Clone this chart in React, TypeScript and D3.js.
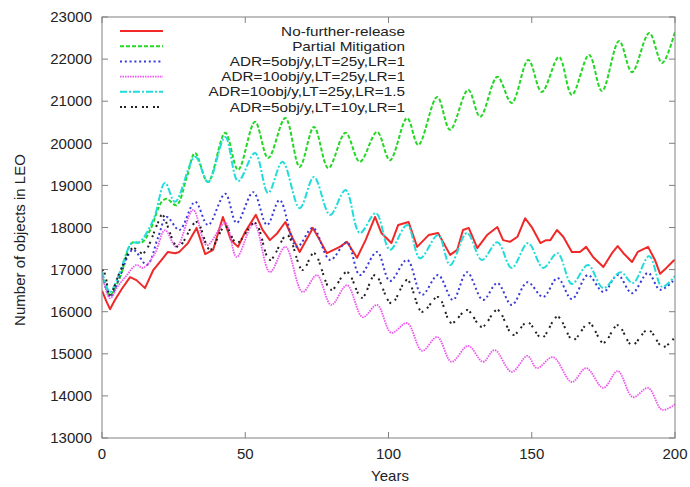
import React from "react";
import * as d3 from "d3";

type Pt = [number, number];

const noFurtherRelease: Pt[] = [[0,16500],[1.5,16250],[2.8,16060],[4.5,16280],[7,16550],[9.8,16820],[12,16750],[15,16560],[17.9,16990],[20.8,17230],[23,17420],[25.5,17390],[27,17420],[30,17630],[33,17990],[36,17370],[38.8,17470],[42.2,18250],[45,17700],[47.5,17540],[50,17900],[53.7,18300],[56,17950],[58.6,17700],[61,17850],[64,18130],[66.5,17750],[69,17420],[73.6,17990],[76,17700],[78.5,17390],[83,17540],[85.5,17660],[89,17280],[92,17700],[95.3,18250],[97.5,17870],[101,17630],[103.4,18060],[107,18130],[110,17540],[114,17820],[117.3,17870],[121.5,17350],[124,17470],[126,17940],[128,17990],[131,17510],[134.4,17820],[138,18010],[140,17700],[142.4,17660],[145,17780],[147.7,18220],[150,18010],[153,17630],[155,17700],[156.5,17700],[158.8,17940],[161,17780],[164,17420],[166.8,17420],[169,17540],[171.4,17300],[175,17060],[178,17390],[180,17560],[182,17390],[185,17180],[187,17420],[190.6,17540],[193,17230],[194.8,16900],[197,17040],[199.3,17200],[200,17230]];

const partialMitigation: Pt[] = [[0,16900],[2.8,16400],[6.3,16820],[10.4,17630],[14,17650],[16.8,17940],[20.8,18610],[22.6,18680],[26,18530],[29.6,19200],[32.5,19770],[37,19080],[43,20250],[47.5,19370],[53.4,20510],[58,19650],[64,20600],[69,19440],[74,20390],[79,19410],[85,20250],[90,19560],[96,20270],[100.5,19600],[106.5,20600],[110.4,19960],[117,21100],[121.5,20320],[127.8,21270],[132,20630],[138,21580],[143,20960],[148.8,21980],[153.5,21220],[159.5,22050],[164,21150],[170,22100],[174.5,21240],[180.5,22430],[185,21690],[191,22620],[195.5,21910],[200,22650]];

const adr5lt25: Pt[] = [[0,16950],[2.8,16350],[6,16800],[10.8,17470],[15.7,17110],[19.5,17750],[22.6,18250],[27,17940],[32.5,18610],[37,18060],[43,18800],[47,18110],[52.8,18840],[57.6,18060],[62,18650],[68,17540],[73.6,17990],[79.6,17230],[85.5,17650],[90,16870],[96,17420],[100.5,16730],[106.5,17230],[111.7,16400],[117.3,16870],[122.5,16280],[127.4,16940],[133,16280],[138,16680],[143,16160],[148.5,16700],[154,16350],[159,16800],[164,16300],[169.6,16870],[175,16470],[180,16870],[185,16440],[190.6,16920],[194.8,16520],[200,16780]];

const adr10lt25: Pt[] = [[0,16900],[2.8,16320],[5.5,16600],[8.7,16870],[12,17110],[14.3,17040],[18.5,17390],[22,17940],[26,17540],[31.8,18420],[36.6,17580],[43,18110],[47,17300],[53,18100],[58.6,16940],[64,17540],[70,16470],[75,16870],[80,16160],[85.5,16630],[91,15870],[96,16160],[101,15500],[106.5,15730],[111.7,15070],[117,15400],[122,14810],[127.8,15190],[133,14810],[137,15090],[143,14570],[148.5,14950],[151.8,14660],[157.4,14920],[164,14330],[169,14660],[175,14190],[180,14590],[185.3,13970],[190.6,14190],[195.5,13670],[200,13800]];

const adr10lt25lr15: Pt[] = [[0,16950],[2.8,16470],[6,16900],[10.4,17630],[13,17650],[17.9,18180],[22,19060],[25.5,18610],[32.5,19680],[37,19080],[43,20150],[47.5,19100],[53.4,19770],[58,18820],[63,19560],[69,18460],[74,19200],[79.6,18300],[85,18890],[90,17870],[95.6,18340],[100.5,17470],[106.5,18060],[111,17270],[117.3,17820],[121.5,17110],[127.4,17870],[132.6,17230],[138,17650],[143,17040],[148.7,17630],[154,17040],[159,17390],[164,16660],[169.6,17110],[175,16560],[181,16940],[185.3,16680],[191,17320],[195.5,16590],[200,16850]];

const adr5lt10: Pt[] = [[0,17000],[1,16900],[2.8,16400],[6,16900],[10.8,17510],[14.3,17390],[19.5,18110],[21,18300],[26.5,17540],[33,18130],[37.7,17470],[43,18030],[47,17630],[53.4,18110],[58.6,17230],[64.6,17820],[70,16990],[74,17390],[80,16520],[85.5,16940],[90.7,16330],[95.3,16870],[101,16200],[106.5,16750],[111.7,16000],[117.3,16350],[122,15730],[127.4,16040],[132.6,15640],[138,16040],[143.5,15450],[148.5,15750],[153.5,15380],[159,15880],[164.4,15330],[170,15730],[175,15260],[180,15680],[185,15210],[190.6,15570],[195.8,15160],[200,15400]];

const seriesLabels = [
  "No-further-release",
  "Partial Mitigation",
  "ADR=5obj/y,LT=25y,LR=1",
  "ADR=10obj/y,LT=25y,LR=1",
  "ADR=10obj/y,LT=25y,LR=1.5",
  "ADR=5obj/y,LT=10y,LR=1",
];

const xTicks = [0, 50, 100, 150, 200];
const yTicks = [13000, 14000, 15000, 16000, 17000, 18000, 19000, 20000, 21000, 22000, 23000];

const styles = [
  { color: "#f02828", dash: "none", width: 2, smooth: false },
  { color: "#22d822", dash: "4,2", width: 2, smooth: true },
  { color: "#3a3ad8", dash: "2,2.8", width: 2, smooth: true },
  { color: "#ee55ee", dash: "1.5,1", width: 1.8, smooth: true },
  { color: "#22dcdc", dash: "7,2,2,2", width: 2, smooth: true },
  { color: "#222222", dash: "2,2,2,5", width: 2, smooth: true },
];

const allSeries = [noFurtherRelease, partialMitigation, adr5lt25, adr10lt25, adr10lt25lr15, adr5lt10];

export default function App() {
  const W = 690, H = 487;
  const left = 102, right = 675, top = 17, bottom = 438;
  const x = d3.scaleLinear().domain([0, 200]).range([left, right]);
  const y = d3.scaleLinear().domain([13000, 23000]).range([bottom, top]);
  const font = "'Liberation Sans', Arial, sans-serif";
  const tl = 6;
  const frame = "#808080";

  const mkLine = (smooth: boolean) =>
    d3.line<Pt>().x(d => x(d[0])).y(d => y(d[1]))
      .curve(smooth ? d3.curveCatmullRom.alpha(0.5) : d3.curveLinear);

  return (
    <svg width={W} height={H} style={{ position: "absolute", left: 0, top: 0, background: "#fff" }}
      fontFamily={font}>
      <rect x={0} y={0} width={W} height={H} fill="#fff" />
      <defs>
        <clipPath id="plotclip">
          <rect x={left} y={top} width={right - left} height={bottom - top} />
        </clipPath>
      </defs>
      {yTicks.map(t => (
        <g key={"y" + t}>
          <line x1={left} x2={left + tl} y1={y(t)} y2={y(t)} stroke={frame} />
          <line x1={right} x2={right - tl} y1={y(t)} y2={y(t)} stroke={frame} />
          <text x={92} y={y(t)} dy="0.35em" textAnchor="end" fontSize={15} fill="#222">{t}</text>
        </g>
      ))}
      {xTicks.map(t => (
        <g key={"x" + t}>
          <line x1={x(t)} x2={x(t)} y1={bottom} y2={bottom - tl} stroke={frame} />
          <line x1={x(t)} x2={x(t)} y1={top} y2={top + tl} stroke={frame} />
          <text x={x(t)} y={459} textAnchor="middle" fontSize={15} fill="#222">{t}</text>
        </g>
      ))}
      <text x={390} y={481} textAnchor="middle" fontSize={15} fill="#222">Years</text>
      <text transform={`translate(25,240) rotate(-90)`} textAnchor="middle" fontSize={15} fill="#222">
        Number of objects in LEO
      </text>
      {seriesLabels.map((lab, i) => {
        const ly = 31 + i * 15.2;
        const s = styles[i];
        return (
          <g key={"lg" + i}>
            <line x1={120} x2={163} y1={ly} y2={ly} stroke={s.color} strokeWidth={s.width}
              strokeDasharray={s.dash} />
            <g transform={`translate(405,${ly}) scale(1.14,1)`}>
              <text x={0} y={0} dy="0.35em" textAnchor="end" fontSize={13.4} fill="#222">{lab}</text>
            </g>
          </g>
        );
      })}
      <g clipPath="url(#plotclip)">
        {allSeries.map((data, i) => {
          const s = styles[i];
          return (
            <path key={"s" + i} d={mkLine(s.smooth)(data) || ""} fill="none" stroke={s.color}
              strokeWidth={s.width} strokeDasharray={s.dash} strokeLinejoin="round" />
          );
        })}
      </g>
      <rect x={left} y={top} width={right - left} height={bottom - top} fill="none" stroke={frame} />
    </svg>
  );
}
